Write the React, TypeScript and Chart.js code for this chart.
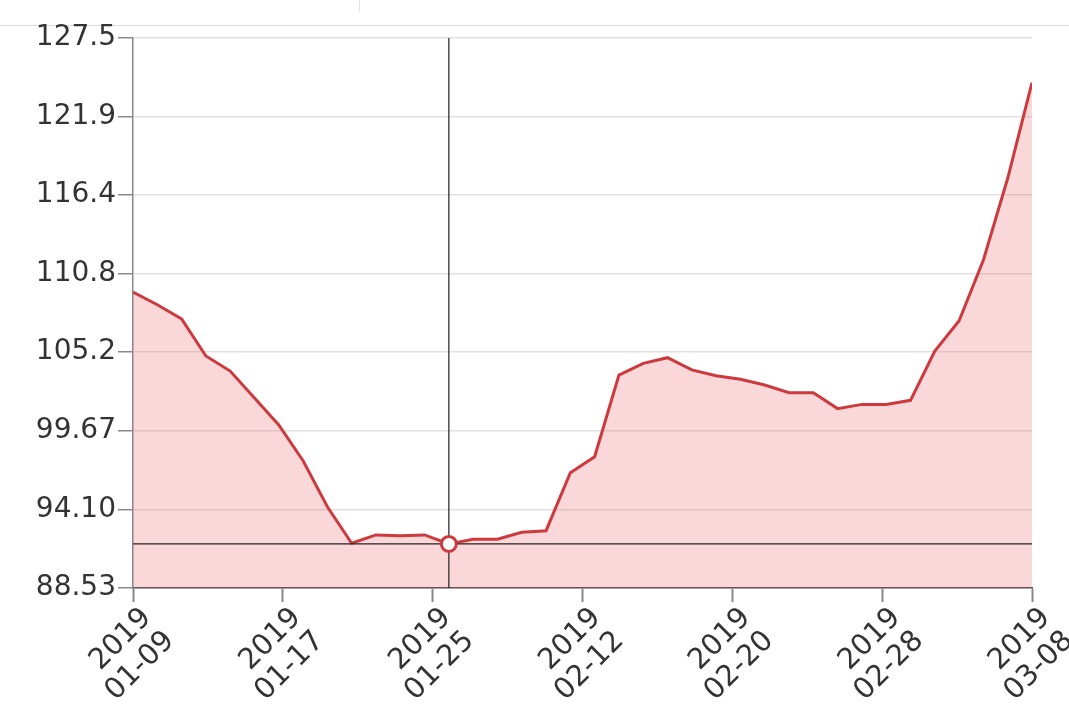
import React, { useEffect, useRef } from "react";
import { Chart, registerables } from "chart.js";

Chart.register(...registerables);

const DATES = [
  "2019-01-09", "2019-01-10", "2019-01-11", "2019-01-14", "2019-01-15", "2019-01-16",
  "2019-01-17", "2019-01-18", "2019-01-21", "2019-01-22", "2019-01-23", "2019-01-24",
  "2019-01-25", "2019-01-28", "2019-01-29", "2019-01-30", "2019-01-31", "2019-02-01",
  "2019-02-11", "2019-02-12", "2019-02-13", "2019-02-14", "2019-02-15", "2019-02-18",
  "2019-02-19", "2019-02-20", "2019-02-21", "2019-02-22", "2019-02-25", "2019-02-26",
  "2019-02-27", "2019-02-28", "2019-03-01", "2019-03-04", "2019-03-05", "2019-03-06",
  "2019-03-07", "2019-03-08",
];

const VALUES = [
  109.5, 108.6, 107.6, 104.97, 103.9, 101.99,
  100.08, 97.55, 94.29, 91.7, 92.29, 92.24,
  92.29, 91.65, 91.98, 91.98, 92.48, 92.59,
  96.7, 97.83, 103.62, 104.45, 104.85, 103.98,
  103.57, 103.32, 102.91, 102.37, 102.37, 101.24,
  101.54, 101.54, 101.83, 105.32, 107.47, 111.77,
  117.56, 124.33,
];

const X_TICK_LABELS = [
  ["2019", "01-09"],
  ["2019", "01-17"],
  ["2019", "01-25"],
  ["2019", "02-12"],
  ["2019", "02-20"],
  ["2019", "02-28"],
  ["2019", "03-08"],
];

const Y_TICKS = [88.53, 94.1, 99.67, 105.24, 110.81, 116.38, 121.94, 127.5];
const Y_TICK_LABELS = ["88.53", "94.10", "99.67", "105.2", "110.8", "116.4", "121.9", "127.5"];

const Y_MIN = 88.53;
const Y_MAX = 127.5;
const SELECTED_INDEX = 13;

const LINE_COLOR = "#cc3a3e";
const FILL_COLOR = "rgba(230, 60, 70, 0.2)";
const FONT_FAMILY = "'DejaVu Sans', sans-serif";

const crosshairPlugin = {
  id: "crosshair",
  afterDatasetsDraw(chart: any) {
    const meta = chart.getDatasetMeta(0);
    const pt = meta.data[SELECTED_INDEX];
    if (!pt) return;
    const { ctx, chartArea } = chart;
    ctx.save();
    ctx.strokeStyle = "#222";
    ctx.lineWidth = 1.2;
    ctx.beginPath();
    ctx.moveTo(pt.x, chartArea.top);
    ctx.lineTo(pt.x, chartArea.bottom);
    ctx.moveTo(chartArea.left, pt.y);
    ctx.lineTo(chartArea.right, pt.y);
    ctx.stroke();
    ctx.beginPath();
    ctx.arc(pt.x, pt.y, 7.5, 0, Math.PI * 2);
    ctx.fillStyle = "#ffffff";
    ctx.fill();
    ctx.lineWidth = 3;
    ctx.strokeStyle = LINE_COLOR;
    ctx.stroke();
    ctx.restore();
  },
};

export default function App() {
  const canvasRef = useRef<HTMLCanvasElement | null>(null);

  useEffect(() => {
    if (!canvasRef.current) return;
    const lastIndex = VALUES.length - 1;
    const chart = new Chart(canvasRef.current, {
      type: "line",
      data: {
        labels: DATES,
        datasets: [
          {
            data: VALUES.map((y, i) => ({ x: i, y })),
            borderColor: LINE_COLOR,
            borderWidth: 3,
            backgroundColor: FILL_COLOR,
            fill: "start",
            pointRadius: 0,
            tension: 0,
          },
        ],
      },
      options: {
        responsive: false,
        animation: false,
        layout: { padding: { top: 38, right: 37, left: 0, bottom: 0 } },
        plugins: {
          legend: { display: false },
          tooltip: { enabled: false },
        },
        scales: {
          x: {
            type: "linear",
            min: 0,
            max: lastIndex,
            afterBuildTicks: (s: any) => {
              s.ticks = X_TICK_LABELS.map((_, k) => ({
                value: (k * lastIndex) / (X_TICK_LABELS.length - 1),
              }));
            },
            afterFit: (s: any) => {
              s.height = 125;
              s.paddingRight = 0;
              s.paddingLeft = 0;
            },
            ticks: {
              autoSkip: false,
              minRotation: 45,
              maxRotation: 45,
              labelOffset: 14,
              padding: 0,
              color: "#333",
              font: { family: FONT_FAMILY, size: 29, lineHeight: 1.12 },
              callback: (_v: any, i: number) => X_TICK_LABELS[i],
            },
            grid: {
              drawOnChartArea: false,
              drawTicks: true,
              tickLength: 14,
              tickColor: "#888",
              tickWidth: 2,
            },
            border: { color: "#555", width: 1.5 },
          },
          y: {
            min: Y_MIN,
            max: Y_MAX,
            afterBuildTicks: (s: any) => {
              s.ticks = Y_TICKS.map((v) => ({ value: v }));
            },
            afterFit: (s: any) => {
              s.width = 133;
            },
            ticks: {
              padding: 2,
              color: "#333",
              font: { family: FONT_FAMILY, size: 28 },
              callback: (_v: any, i: number) => Y_TICK_LABELS[i],
            },
            grid: {
              color: "#e2e2e2",
              lineWidth: 1.5,
              drawTicks: true,
              tickLength: 15,
              tickColor: "#888",
              tickWidth: 1.5,
            },
            border: { color: "#888", width: 1.5 },
          },
        },
      },
      plugins: [crosshairPlugin],
    });
    return () => chart.destroy();
  }, []);

  return (
    <div style={{ position: "absolute", left: 0, top: 0, width: 1069, height: 713, background: "#fff" }}>
      <div style={{ position: "absolute", left: 0, top: 25, width: 1069, height: 0, borderTop: "1.5px solid #dcdcdc" }} />
      <div style={{ position: "absolute", left: 359, top: 0, width: 0, height: 12, borderLeft: "1px solid #e4e4e4" }} />
      <canvas ref={canvasRef} width={1069} height={713} style={{ position: "absolute", left: 0, top: 0 }} />
    </div>
  );
}
